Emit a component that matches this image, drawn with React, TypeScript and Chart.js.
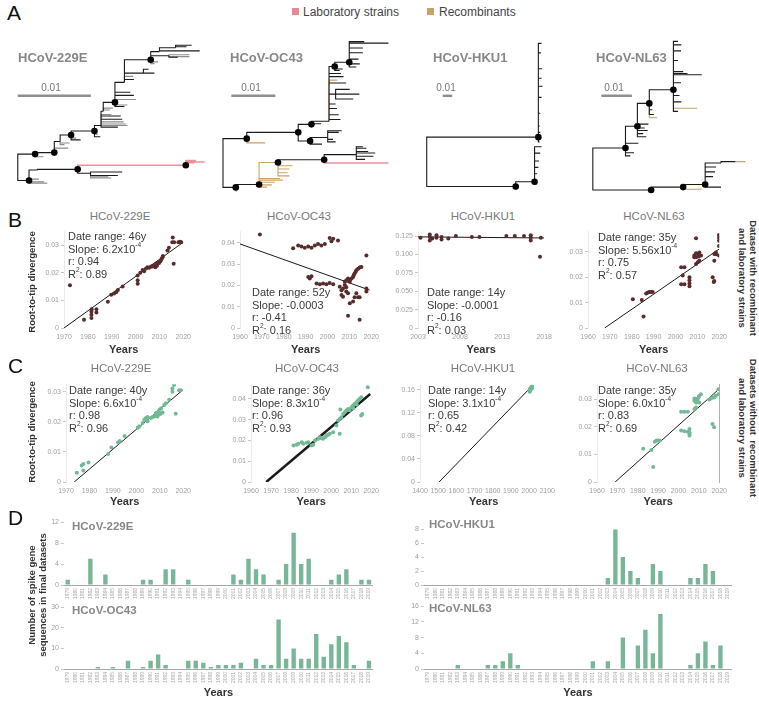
import React, { useEffect, useRef } from 'react';
import { Chart, registerables } from 'chart.js';
Chart.register(...registerables);

const FONT = 'Arial, "Liberation Sans", Helvetica, sans-serif';
const BROWN = '#5a2b2c';
const GREEN = '#72ba95';
const BARC = '#77b797';

// ---------- Panel D data ----------
const YEARS = [1979, 1980, 1981, 1982, 1983, 1984, 1985, 1986, 1987, 1988, 1989, 1990, 1991, 1992, 1993, 1994, 1995, 1996, 1997, 1998, 1999, 2000, 2001, 2002, 2003, 2004, 2005, 2006, 2007, 2008, 2009, 2010, 2011, 2012, 2013, 2014, 2015, 2016, 2017, 2018, 2019];
const D_229E = [1, 0, 0, 5, 0, 2, 0, 0, 0, 0, 1, 1, 0, 3, 3, 0, 1, 0, 0, 0, 0, 0, 2, 1, 5, 3, 2, 0, 1, 4, 10, 4, 5, 0, 0, 1, 2, 3, 0, 1, 1];
const D_OC43 = [0, 0, 0, 0, 1, 0, 1, 0, 4, 0, 1, 4, 7, 2, 0, 0, 4, 4, 3, 1, 2, 2, 2, 3, 0, 5, 2, 2, 24, 5, 10, 5, 5, 17, 6, 12, 16, 13, 2, 0, 4];
const D_HKU1 = [0, 0, 0, 0, 0, 0, 0, 0, 0, 0, 0, 0, 0, 0, 0, 0, 0, 0, 0, 0, 0, 0, 0, 0, 1, 8, 4, 2, 1, 0, 3, 2, 0, 0, 0, 1, 1, 3, 2, 0, 0];
const D_NL63 = [0, 0, 0, 0, 1, 0, 0, 0, 1, 1, 2, 4, 1, 0, 0, 0, 0, 0, 0, 0, 0, 0, 2, 0, 2, 0, 8, 0, 6, 10, 4, 14, 0, 0, 0, 1, 4, 7, 1, 6, 0];
const D_229E_YT = [0, 4, 8, 12];
const D_OC43_YT = [0, 10, 20, 30];
const D_HKU1_YT = [0, 2, 4, 6, 8];
const D_NL63_YT = [0, 4, 8, 12, 16];

// ---------- Panel B data (with recombinant and laboratory strains) ----------
const B_229E_PTS = [[1972.5, 0.0155], [1978.4, 0.003], [1981.5, 0.0036], [1981.5, 0.0048], [1981.5, 0.006], [1981.6, 0.0068], [1983.6, 0.0056], [1983.6, 0.0068], [1988.4, 0.0095], [1989.8, 0.012], [1991, 0.0125], [1992, 0.013], [1992.6, 0.0137], [1994.6, 0.015], [2000.9, 0.016], [2000.9, 0.0173], [2000.9, 0.019], [2002, 0.02], [2003, 0.021], [2003.6, 0.0205], [2004.4, 0.0215], [2005, 0.022], [2005.7, 0.0218], [2006.5, 0.0222], [2007, 0.0222], [2007.5, 0.0225], [2008, 0.0228], [2008.3, 0.022], [2008.7, 0.0232], [2009, 0.0225], [2009.3, 0.0235], [2009.9, 0.0235], [2010.3, 0.024], [2010.6, 0.0244], [2011, 0.025], [2011.3, 0.0256], [2011.5, 0.026], [2013.4, 0.028], [2014, 0.029], [2015.4, 0.031], [2015.6, 0.0327], [2016, 0.0232], [2016.2, 0.031], [2018, 0.031], [2018.6, 0.0312], [2019.2, 0.031]];
const B_229E_FIT = [[1970, 0], [2020, 0.031]];
const B_OC43_PTS = [[1969.1, 0.0439], [1984.3, 0.0375], [1986.6, 0.0388], [1988.1, 0.0383], [1989.6, 0.0377], [1991.2, 0.0383], [1992.7, 0.0377], [1994.2, 0.0388], [1995.7, 0.0395], [1997.2, 0.0388], [1998.8, 0.0395], [2001, 0.0423], [2001.8, 0.0408], [2002.6, 0.0419], [2004.8, 0.0411], [1991.2, 0.024], [1991.9, 0.0233], [1992.7, 0.0243], [1995, 0.0209], [1996.5, 0.0206], [1998, 0.0209], [1999.5, 0.0206], [2001, 0.0212], [2002.6, 0.0206], [2005.6, 0.0194], [2006.4, 0.0178], [2007.1, 0.0186], [2007.9, 0.0202], [2008.6, 0.0191], [2007.9, 0.0217], [2008.6, 0.0225], [2009.4, 0.0233], [2010.2, 0.0217], [2006.4, 0.0155], [2007.1, 0.0147], [2008.6, 0.0171], [2010.2, 0.0225], [2011.7, 0.024], [2012.4, 0.0256], [2013.2, 0.0271], [2014, 0.0279], [2014.7, 0.0284], [2015.5, 0.0287], [2011, 0.0233], [2012, 0.0248], [2012.9, 0.0264], [2009.4, 0.0163], [2010.2, 0.0116], [2011.7, 0.0124], [2012.4, 0.0144], [2014, 0.0144], [2014.7, 0.0144], [2013.2, 0.0163], [2009.4, 0.0057], [2014.7, 0.0039], [2017.8, 0.0341], [2017.8, 0.0186], [2017.8, 0.0171]];
const B_OC43_FIT = [[1960, 0.0395], [2019.3, 0.0178]];
const B_HKU1_PTS = [[2003.3, 0.1228], [2004.4, 0.1237], [2004.4, 0.1272], [2004.4, 0.1192], [2004.7, 0.1219], [2005.2, 0.1228], [2005.2, 0.1263], [2005.8, 0.1237], [2005.8, 0.1205], [2006.6, 0.1219], [2007.5, 0.125], [2009.4, 0.1237], [2010.3, 0.1237], [2013.5, 0.125], [2014.5, 0.125], [2015.6, 0.125], [2016.4, 0.1263], [2016.4, 0.1192], [2016.4, 0.1228], [2017.6, 0.1228], [2017.5, 0.0969]];
const B_HKU1_FIT = [[2003, 0.124], [2018, 0.1225]];
const B_NL63_PTS = [[1980.5, 0.0113], [1984.6, 0.011], [1985.4, 0.0045], [1986.6, 0.0136], [1987.4, 0.014], [1988.1, 0.0142], [1988.9, 0.0142], [1989.6, 0.0142], [2002.6, 0.0239], [2004.1, 0.0239], [2003.3, 0.0207], [2002.6, 0.0172], [2004.1, 0.0172], [2006.4, 0.02], [2006.4, 0.0188], [2006.4, 0.0175], [2006.4, 0.0164], [2009.4, 0.0353], [2008.6, 0.0285], [2009.4, 0.0278], [2010.2, 0.0291], [2010.9, 0.0297], [2011.7, 0.0285], [2008.6, 0.0278], [2009.4, 0.0294], [2010.6, 0.0281], [2009.4, 0.0252], [2010.2, 0.0259], [2010.9, 0.0265], [2017.75, 0.0265], [2018.5, 0.0297], [2017, 0.02], [2017.75, 0.0185], [2017.5, 0.0181], [2019.9, 0.0366], [2019.9, 0.0343], [2019.9, 0.0323], [2019.9, 0.0355], [2017.75, 0.0291], [2018.5, 0.029], [2019.9, 0.0285]];
const B_NL63_FIT = [[1967.6, 0], [2020, 0.0311]];

// ---------- Panel C data (without recombinant and laboratory strains) ----------
const C_229E_PTS = [[1974.6, 0.0031], [1976.7, 0.0055], [1977.4, 0.006], [1977.4, 0.0038], [1979.6, 0.0065], [1988, 0.0093], [1989.4, 0.0115], [1992.2, 0.0131], [1992.9, 0.0136], [1995, 0.0153], [2000.6, 0.018], [2001.3, 0.0185], [2002.7, 0.0196], [2003.4, 0.0207], [2004.1, 0.0213], [2004.8, 0.0216], [2004.8, 0.0202], [2006.2, 0.0213], [2006.9, 0.0216], [2007.6, 0.0218], [2008.3, 0.022], [2009, 0.0218], [2009.7, 0.0224], [2010.4, 0.0227], [2011.2, 0.0231], [2008.3, 0.0229], [2009.4, 0.0234], [2009.9, 0.024], [2010.6, 0.0245], [2011.9, 0.0256], [2012.6, 0.0262], [2014, 0.0273], [2015.4, 0.0311], [2016.1, 0.0322], [2015.4, 0.03], [2016.8, 0.0227], [2018.2, 0.0305], [2018.9, 0.0305]];
const C_229E_FIT = [[1973.5, 0], [2020, 0.0307]];
const C_OC43_PTS = [[1981.2, 0.0176], [1982.8, 0.0179], [1983.6, 0.0184], [1985.3, 0.0192], [1986.1, 0.0184], [1987.8, 0.0189], [1988.6, 0.0192], [1990.2, 0.0176], [1991.1, 0.0179], [1991.9, 0.02], [1993.6, 0.0208], [1994.4, 0.0216], [1995.2, 0.0211], [1996, 0.0208], [1996.9, 0.0216], [1997.7, 0.0224], [1998.5, 0.0227], [1999.3, 0.0232], [2001, 0.024], [2004.3, 0.0232], [2002.6, 0.0272], [2003.5, 0.0296], [2004.3, 0.0304], [2005.1, 0.0312], [2006, 0.0328], [2006.8, 0.0336], [2007.6, 0.0344], [2004.6, 0.0349], [2008.4, 0.0352], [2010.1, 0.036], [2010.9, 0.0368], [2011.7, 0.0376], [2012.6, 0.0384], [2013.4, 0.0392], [2014.2, 0.04], [2015, 0.0408], [2009.2, 0.0345], [2011, 0.0355], [2012.8, 0.0372], [2015, 0.032], [2015.5, 0.0328], [2018.3, 0.0456]];
const C_OC43_FIT = [[1967.6, 0], [2019.5, 0.0424]];
const C_HKU1_PTS = [[2003, 0.158], [2004, 0.1595], [2005, 0.161], [2006, 0.16], [2007, 0.1625], [2008, 0.162], [2009, 0.163], [2010, 0.1615], [2011, 0.164], [2013, 0.163], [2014, 0.165], [2015, 0.1645], [2016, 0.166], [2017, 0.165], [2004, 0.157], [2016, 0.1625]];
const C_HKU1_FIT = [[1505, 0], [2020, 0.168]];
const C_NL63_PTS = [[1982.7, 0.012], [1986.7, 0.0116], [1987.6, 0.0054], [1988.4, 0.0146], [1989.2, 0.015], [1990, 0.015], [1990.8, 0.015], [2001.3, 0.0254], [2002.9, 0.0254], [2004.6, 0.0254], [2001.3, 0.0186], [2002.9, 0.0184], [2004.6, 0.0182], [2005.4, 0.0192], [2005.4, 0.018], [2005.4, 0.0174], [2005.4, 0.0168], [2007.8, 0.0294], [2008.6, 0.03], [2009.4, 0.03], [2010.2, 0.0312], [2011, 0.0318], [2010.2, 0.0288], [2007.8, 0.0264], [2008.6, 0.027], [2007.8, 0.0302], [2008.6, 0.0288], [2009.4, 0.0291], [2009.9, 0.0306], [2016.7, 0.021], [2017.5, 0.0198], [2016.7, 0.0306], [2017.5, 0.0306], [2018.3, 0.0312], [2019.6, 0.0318], [2019.6, 0.0336], [2015.9, 0.0302], [2015.1, 0.0299]];
const C_NL63_FIT = [[1968.9, 0], [2020, 0.0337]];

// ---------- Axis ticks ----------
const X_1970 = [1970, 1980, 1990, 2000, 2010, 2020];
const X_1960 = [1960, 1970, 1980, 1990, 2000, 2010, 2020];
const X_2003 = [2003, 2008, 2013, 2018];
const X_1400 = [1400, 1500, 1600, 1700, 1800, 1900, 2000, 2100];
const Y_003 = [0, 0.01, 0.02, 0.03];
const Y_003_L = ['0', '0.01', '0.02', '0.03'];
const Y_004 = [0, 0.01, 0.02, 0.03, 0.04];
const Y_004_L = ['0', '0.01', '0.02', '0.03', '0.04'];
const Y_0125 = [0, 0.025, 0.05, 0.075, 0.1, 0.125];
const Y_0125_L = ['0', '0.025', '0.050', '0.075', '0.100', '0.125'];
const Y_016 = [0, 0.04, 0.08, 0.12, 0.16];
const Y_016_L = ['0', '0.04', '0.08', '0.12', '0.16'];

// ---------- Stats text ----------
const STATS_B = [
  { range: '46y', slope: '6.2x10', exp: '-4', r: '0.94', r2: '0.89' },
  { range: '52y', slope: '-0.0003', exp: '', r: '-0.41', r2: '0.16' },
  { range: '14y', slope: '-0.0001', exp: '', r: '-0.16', r2: '0.03' },
  { range: '35y', slope: '5.56x10', exp: '-4', r: '0.75', r2: '0.57' },
];
const STATS_C = [
  { range: '40y', slope: '6.6x10', exp: '-4', r: '0.98', r2: '0.96' },
  { range: '36y', slope: '8.3x10', exp: '-4', r: '0.96', r2: '0.93' },
  { range: '14y', slope: '3.1x10', exp: '-4', r: '0.65', r2: '0.42' },
  { range: '35y', slope: '6.0x10', exp: '-4', r: '0.83', r2: '0.69' },
];

// ---------- Trees: [id, parent, divergence (x0.001), tip position, colour, node dot] ----------
const TREE_229E = [
  ['r', '', 0, 18, 'k', 0], ['a', 'r', 2.37, 31.7, 'k', 1], ['b', 'r', 1.54, 4, 'k', 1],
  ['b1', 'b', 4.04, 1.3, 'g', 0], ['b2', 'b', 3.6, 2.7, 'g', 0], ['b3', 'b', 2.9, 5.5, 'g', 0],
  ['c', 'b', 2.72, 15, 'k', 0], ['d', 'c', 8.2, 15.7, 'k', 1], ['e', 'd', 23.0, 20, 'p', 1],
  ['e1', 'e', 24.4, 25, 'p', 0], ['e2', 'e', 24.2, 22.7, 'p', 0], ['e3', 'e', 25.6, 23.5, 'p', 0],
  ['f', 'd', 9.96, 11.7, 'k', 0], ['f1', 'f', 13.7, 9.3, 'k', 0], ['f2', 'f', 14.3, 13, 'k', 0],
  ['f3', 'f', 12.8, 6.7, 'g', 0], ['f4', 'f', 12.4, 8, 'g', 0],
  ['g', 'a', 5.0, 33.3, 'k', 1], ['a1', 'a', 3.5, 29, 'g', 0], ['h', 'g', 5.8, 45, 'k', 0],
  ['g1', 'g', 6.9, 38, 'g', 0], ['h1', 'h', 6.4, 41.7, 'g', 0], ['h2', 'h', 7.1, 43.3, 'g', 0],
  ['i', 'h', 7.3, 51.7, 'k', 1], ['i1', 'i', 8.6, 46.7, 'k', 0], ['i2', 'i', 8.0, 48.5, 'g', 0],
  ['j', 'i', 10.5, 56, 'k', 1], ['j1', 'j', 11.3, 50, 'k', 0], ['j2', 'j', 11.0, 52.5, 'g', 0],
  ['k', 'j', 11.4, 61.7, 'k', 0], ['k1', 'k', 13.7, 60, 'k', 0], ['k2', 'k', 15.0, 61.7, 'g', 0],
  ['k3', 'k', 14.8, 63.3, 'g', 0], ['k4', 'k', 14.3, 68.3, 'k', 0], ['k5', 'k', 14.1, 71.7, 'k', 0],
  ['k6', 'k', 12.8, 73.3, 'g', 0], ['k7', 'k', 14.5, 65.5, 'g', 0],
  ['l', 'k', 11.7, 76.7, 'k', 0], ['l1', 'l', 12.6, 78, 'g', 0], ['l2', 'l', 13.0, 80, 'g', 0],
  ['m', 'l', 13.3, 86, 'k', 1], ['m1', 'm', 14.6, 81.7, 'k', 0], ['m2', 'm', 15.0, 83.3, 'g', 0],
  ['m3', 'm', 15.9, 93.3, 'k', 0], ['m4', 'm', 15.4, 96.7, 'k', 0], ['m5', 'm', 16.2, 89, 'g', 0],
  ['n', 'm', 14.6, 107, 'k', 0], ['n1', 'n', 15.9, 110, 'k', 0], ['n2', 'n', 15.8, 113.3, 'g', 0],
  ['o', 'n', 17.2, 116.7, 'k', 0], ['o1', 'o', 18.7, 116.7, 'k', 0], ['o2', 'o', 17.9, 120.7, 'k', 0],
  ['q', 'n', 15.7, 130.7, 'k', 0], ['s', 'q', 18.2, 130.7, 'k', 1],
  ['s1', 's', 18.7, 126.7, 'g', 0], ['s2', 's', 19.2, 128.5, 'g', 0],
  ['u', 's', 19.4, 139.3, 'k', 0], ['v', 'u', 21.6, 143.3, 'k', 0], ['v1', 'v', 23.8, 146, 'k', 0],
  ['v2', 'v', 23.1, 144.3, 'k', 0], ['u1', 'u', 24.9, 140, 'k', 0],
  ['w', 's', 20.7, 135, 'k', 0], ['w1', 'w', 23.5, 136, 'g', 0], ['w2', 'w', 23.5, 134, 'g', 0], ['w3', 'w', 21.9, 133.3, 'k', 0],
];
const TREE_OC43 = [
  ['r', '', 0, 30, 'k', 0], ['a', 'r', 5.4, 51.7, 'k', 1], ['z', 'r', 2.9, 0.7, 'k', 1],
  ['a1', 'a', 9.6, 47.3, 't', 0], ['b', 'a', 17.1, 58.3, 'k', 1], ['c', 'b', 20.1, 66.7, 'k', 1],
  ['d', 'b', 19.8, 49.3, 'k', 1], ['e', 'd', 23.8, 53, 'k', 0], ['e1', 'e', 26.3, 58.3, 'k', 0],
  ['e2', 'e', 25.6, 48.3, 'k', 0], ['e3', 'e', 25.0, 51, 'k', 0], ['e4', 'e', 27.0, 60, 'k', 0],
  ['d1', 'd', 22.5, 46, 'k', 0], ['f', 'c', 24.1, 70, 'k', 0], ['c1', 'c', 22.3, 67.3, 'k', 0],
  ['f1', 'f', 26.7, 71.7, 'k', 0], ['f2', 'f', 26.3, 76.7, 'k', 0], ['f3', 'f', 25.9, 83.3, 'k', 0],
  ['f4', 'f', 25.6, 88, 'k', 0], ['g', 'f', 25.6, 98.3, 'k', 0], ['g1', 'g', 31.0, 98.3, 'k', 0],
  ['g2', 'g', 29.6, 93.3, 'k', 0], ['g3', 'g', 28.8, 103.3, 'k', 0], ['f5', 'f', 28.0, 110, 'k', 0],
  ['f6', 'f', 27.4, 116.7, 'k', 0], ['f7', 'f', 26.8, 120, 'k', 0], ['f8', 'f', 26.0, 113, 't', 0],
  ['h', 'f', 25.4, 127.3, 'k', 1], ['h1', 'h', 27.2, 124.7, 'k', 0], ['h2', 'h', 26.5, 123, 'k', 0],
  ['i', 'h', 28.7, 131.7, 'k', 1], ['i1', 'i', 30.3, 126.7, 'k', 0], ['i2', 'i', 31.1, 130, 'k', 0],
  ['i3', 'i', 30.8, 135, 'k', 0], ['i4', 'i', 31.8, 141.7, 'k', 0], ['i5', 'i', 31.8, 146.7, 'k', 0],
  ['i6', 'i', 32.1, 153.3, 'k', 0], ['i7', 'i', 37.6, 151.7, 'k', 0],
  ['y', 'z', 8.2, 3.7, 'k', 1], ['x', 'y', 12.5, 26.7, 't', 1], ['w', 'x', 23.0, 29.7, 'k', 1],
  ['w1', 'w', 37.6, 26.3, 'p', 0], ['v', 'w', 30.3, 35, 'k', 0], ['v1', 'v', 32.6, 41.7, 'k', 0],
  ['v2', 'v', 33.0, 38.3, 'k', 0], ['v3', 'v', 34.6, 36.7, 'k', 0], ['v4', 'v', 34.2, 33.3, 'k', 0],
  ['v5', 'v', 32.3, 30, 'k', 0], ['v6', 'v', 31.8, 43.3, 'k', 0],
  ['x1', 'x', 15.8, 23.3, 't', 0], ['x2', 'x', 15.1, 20, 't', 0], ['x3', 'x', 14.7, 16, 't', 0],
  ['x4', 'x', 15.1, 12.7, 't', 0], ['y1', 'y', 13.0, 10, 't', 0], ['y2', 'y', 13.6, 8.3, 't', 0],
  ['y3', 'y', 11.8, 6, 't', 0], ['y4', 'y', 11.1, 3.3, 't', 0], ['y5', 'y', 10.0, 1, 't', 0],
  ['z1', 'z', 3.2, -3, 't', 0],
];
const TREE_HKU1 = [
  ['r', '', 0, 30, 'k', 0], ['a', 'r', 118.3, 55, 'k', 1], ['b', 'r', 94.3, 3.3, 'k', 1],
  ['a1', 'a', 121.7, 153.3, 'k', 0], ['a2', 'a', 121.0, 143.3, 'k', 0], ['a3', 'a', 122.3, 126.7, 'k', 0],
  ['a4', 'a', 121.7, 116.7, 'k', 0], ['a5', 'a', 122.7, 108.3, 'k', 0], ['a6', 'a', 121.7, 96.7, 'k', 0],
  ['a7', 'a', 120.3, 80, 'k', 0], ['a8', 'a', 119.7, 66.7, 'k', 0], ['a9', 'a', 120.3, 60, 'k', 0],
  ['a10', 'a', 119.5, 50, 'k', 0], ['c', 'b', 114.3, 8.3, 'k', 1], ['c1', 'c', 121.7, 45, 'k', 0],
  ['c2', 'c', 120.3, 38.3, 'k', 0], ['c3', 'c', 118.3, 23.3, 'k', 0], ['c4', 'c', 117.0, 16.7, 'k', 0],
  ['c5', 'c', 116.5, 6, 'k', 0], ['c6', 'c', 119.0, 30, 'k', 0], ['b1', 'b', 95.0, 0, 't', 0],
];
const TREE_NL63 = [
  ['r', '', 0, 30, 'k', 0], ['a', 'r', 10.7, 45, 'k', 1], ['b', 'r', 19.1, 1, 'k', 1],
  ['a1', 'a', 12.3, 36.7, 'k', 0], ['a2', 'a', 13.5, 40, 'k', 0], ['a3', 'a', 14.9, 50, 'k', 0],
  ['c', 'a', 14.6, 67.7, 'k', 1], ['c1', 'c', 16.5, 60, 'k', 0], ['c2', 'c', 17.5, 56.7, 'k', 0],
  ['c3', 'c', 18.0, 63.3, 'k', 0], ['c4', 'c', 17.0, 66, 'k', 0], ['c5', 'c', 18.2, 70, 'k', 0],
  ['d', 'c', 18.5, 91.7, 'k', 1], ['d1', 'd', 21.1, 76.7, 't', 0], ['d2', 'd', 20.0, 80, 'k', 0],
  ['d3', 'd', 19.5, 85, 'k', 0], ['e', 'd', 26.4, 106, 'k', 1], ['e1', 'e', 27.9, 156.7, 'k', 0],
  ['e2', 'e', 29.0, 153, 'k', 0], ['e3', 'e', 28.9, 146.7, 'k', 0], ['e4', 'e', 27.9, 136.7, 'k', 0],
  ['e5', 'e', 29.6, 125, 'k', 0], ['e6', 'e', 35.7, 121.7, 'k', 0], ['e7', 'e', 31.0, 123, 'k', 0],
  ['e8', 'e', 28.9, 113.3, 'k', 0], ['e9', 'e', 28.4, 100, 'k', 0], ['e10', 'e', 34.2, 86.7, 't', 0],
  ['e11', 'e', 27.9, 83.3, 'k', 0], ['e12', 'e', 29.0, 93.3, 'k', 0],
  ['f', 'b', 29.6, 4, 'k', 1], ['f1', 'f', 35.7, 1.7, 't', 0], ['g', 'f', 36.8, 6.7, 'k', 1],
  ['g1', 'g', 42.0, 4, 'k', 0], ['g2', 'g', 39.4, 15, 'k', 0], ['g3', 'g', 40.0, 20, 'k', 0],
  ['g4', 'g', 40.4, 25, 'k', 0], ['h', 'g', 42.0, 29.3, 'k', 0], ['h1', 'h', 46.7, 30.7, 'k', 0],
  ['h2', 'h1', 50.0, 30.7, 't', 0],
];

const TREE_COL: any = { k: '#1c1c1c', g: '#8c8c8c', p: '#e8939b', t: '#caa466' };

function treeConfig(nodes: any[], xr: number[], yr: number[], bar: number[]) {
  const map = new Map(nodes.map((n) => [n[0], n]));
  const seg = (c: string) => {
    const out: any[] = [];
    for (const n of nodes) {
      if (!n[1] || n[4] !== c) continue;
      const p: any = map.get(n[1]);
      out.push({ x: p[2], y: p[3] }, { x: p[2], y: n[3] }, { x: n[2], y: n[3] }, { x: null, y: null });
    }
    return out;
  };
  const datasets: any[] = [
    { data: nodes.filter((n) => n[5]).map((n) => ({ x: n[2], y: n[3] })), pointRadius: 3.3, pointBackgroundColor: '#050505', pointBorderWidth: 0, showLine: false },
  ];
  for (const c of ['k', 'p', 't', 'g']) {
    datasets.push({ data: seg(c), showLine: true, borderColor: TREE_COL[c], borderWidth: c === 'p' ? 1.4 : 1.1, pointRadius: 0, spanGaps: false, tension: 0 });
  }
  datasets.push({ data: [{ x: bar[0], y: bar[2] }, { x: bar[1], y: bar[2] }], showLine: true, borderColor: '#8e8e8e', borderWidth: 2.5, pointRadius: 0 });
  return {
    type: 'scatter',
    data: { datasets },
    options: {
      responsive: false, animation: false, devicePixelRatio: 1, events: [],
      layout: { padding: 0 },
      plugins: { legend: { display: false }, tooltip: { enabled: false } },
      scales: {
        x: { type: 'linear', display: false, min: xr[0], max: xr[1] },
        y: { type: 'linear', display: false, min: yr[0], max: yr[1] },
      },
    },
  };
}

function scatterConfig(p: any) {
  return {
    type: 'scatter',
    data: {
      datasets: [
        { data: p.pts.map(([x, y]: number[]) => ({ x, y })), pointRadius: 2, pointBackgroundColor: p.color, pointBorderWidth: 0, showLine: false },
        { data: p.fit.map(([x, y]: number[]) => ({ x, y })), showLine: true, borderColor: '#1a1a1a', borderWidth: p.fitW || 1, pointRadius: 0 },
      ],
    },
    options: {
      responsive: false, animation: false, devicePixelRatio: 1, events: [],
      layout: { padding: { top: 5, right: 10, left: 0, bottom: 0 } },
      plugins: { legend: { display: false }, tooltip: { enabled: false } },
      scales: {
        x: {
          type: 'linear', min: p.x[0], max: p.x[1],
          afterBuildTicks: (s: any) => { s.ticks = p.xt.map((v: number) => ({ value: v })); },
          ticks: { autoSkip: false, font: { family: FONT, size: 7 }, color: '#a0a0a0', maxRotation: 0, padding: 3, callback: (v: any) => String(v) },
          grid: { display: false, tickLength: 2 },
          border: { display: false },
          title: { display: true, text: 'Years', font: { family: FONT, size: 11, weight: 'bold' }, color: '#333', padding: { top: 0, bottom: 2 } },
          afterFit: (s: any) => { s.height = p.xH; },
        },
        y: {
          type: 'linear', min: p.y[0], max: p.y[1],
          afterBuildTicks: (s: any) => { s.ticks = p.yt.map((v: number) => ({ value: v })); },
          ticks: { font: { family: FONT, size: 7 }, color: '#a0a0a0', padding: 2, callback: (_v: any, i: number) => p.yl[i] },
          grid: { drawOnChartArea: false, tickLength: 3, color: '#c8c8c8' },
          border: { display: true, color: '#ececec' },
          afterFit: (s: any) => { s.width = p.yW; },
        },
        ...(p.rightLine
          ? { y2: { type: 'linear', position: 'right', min: p.y[0], max: p.y[1], ticks: { display: false }, grid: { display: false, drawTicks: false }, border: { display: true, color: '#b0b0b0' }, afterFit: (s: any) => { s.width = 0; } } }
          : {}),
      },
    },
  };
}

function barConfig(p: any) {
  return {
    type: 'bar',
    data: { labels: YEARS.map(String), datasets: [{ data: p.data, backgroundColor: BARC, barPercentage: 0.58, categoryPercentage: 1 }] },
    options: {
      responsive: false, animation: false, devicePixelRatio: 1, events: [],
      layout: { padding: { top: 5, right: 4, left: 0, bottom: 0 } },
      plugins: { legend: { display: false }, tooltip: { enabled: false } },
      scales: {
        x: {
          ticks: { autoSkip: false, minRotation: 90, maxRotation: 90, font: { family: FONT, size: 5 }, color: '#a6a6a6', padding: 2 },
          grid: { display: false, tickLength: 1 },
          border: { display: true, color: '#a8a8a8', width: 1 },
          title: p.title
            ? { display: true, text: 'Years', font: { family: FONT, size: 11, weight: 'bold' }, color: '#333', padding: { top: 0, bottom: 2 } }
            : { display: false },
          afterFit: (s: any) => { s.height = p.xH; },
        },
        y: {
          min: 0, max: p.max,
          afterBuildTicks: (s: any) => { s.ticks = p.yt.map((v: number) => ({ value: v })); },
          ticks: { font: { family: FONT, size: 7 }, color: '#a0a0a0', padding: 2, callback: (_v: any, i: number) => String(p.yt[i]) },
          grid: { drawOnChartArea: false, tickLength: 3, color: '#c8c8c8' },
          border: { display: false },
          afterFit: (s: any) => { s.width = p.yW; },
        },
      },
    },
  };
}

function ChartBox({ left, top, width, height, make }: any) {
  const ref = useRef<HTMLCanvasElement>(null);
  useEffect(() => {
    const chart = new Chart(ref.current as HTMLCanvasElement, make() as any);
    return () => chart.destroy();
  }, []);
  return <canvas ref={ref} width={width} height={height} style={{ position: 'absolute', left, top, width, height }} />;
}

function Txt({ x, y, children, center, style }: any) {
  return (
    <div style={{ position: 'absolute', left: x, top: y, transform: center ? 'translate(-50%,-50%)' : 'translateY(-50%)', whiteSpace: 'nowrap', fontFamily: FONT, lineHeight: 1, ...style }}>
      {children}
    </div>
  );
}

function Rot({ x, y, deg, lines, style }: any) {
  return (
    <div style={{ position: 'absolute', left: x, top: y, transform: `translate(-50%,-50%) rotate(${deg}deg)`, whiteSpace: 'pre', fontFamily: FONT, textAlign: 'center', ...style }}>
      {lines.map((l: string, i: number) => <div key={i}>{l}</div>)}
    </div>
  );
}

const SUP: any = { fontSize: 6.5, verticalAlign: 'top', position: 'relative', top: -1, lineHeight: 1 };

function Stats({ x, y, s }: any) {
  return (
    <div style={{ position: 'absolute', left: x, top: y, fontFamily: FONT, fontSize: 11, lineHeight: '12.5px', color: '#3a3a3a', whiteSpace: 'nowrap' }}>
      <div>Date range: {s.range}</div>
      <div>Slope: {s.slope}{s.exp ? <span style={SUP}>{s.exp}</span> : null}</div>
      <div>r: {s.r}</div>
      <div>R<span style={SUP}>2</span>: {s.r2}</div>
    </div>
  );
}

const LETTER: any = { fontSize: 21, color: '#111' };
const ATITLE: any = { fontSize: 13, fontWeight: 'bold', color: '#878787' };
const BTITLE: any = { fontSize: 11.5, color: '#7a7a7a' };
const DTITLE: any = { fontSize: 11.5, fontWeight: 'bold', color: '#888' };
const SCALE: any = { fontSize: 10, color: '#777' };
const SIDE: any = { fontSize: 9.5, fontWeight: 'bold', color: '#333', lineHeight: '11px' };

export default function App() {
  useEffect(() => {
    document.body.style.margin = '0';
    document.body.style.background = '#fff';
  }, []);
  return (
    <div style={{ position: 'absolute', left: 0, top: 0, width: 759, height: 704, overflow: 'hidden', background: '#fff', fontFamily: FONT }}>
      {/* Panel A */}
      <div style={{ position: 'absolute', left: 7, top: 2, fontFamily: FONT, lineHeight: 1, ...LETTER }}>A</div>
      <div style={{ position: 'absolute', left: 292, top: 8, width: 7, height: 7, background: '#e38a94' }} />
      <Txt x={303} y={12} style={{ fontSize: 12, color: '#444' }}>Laboratory strains</Txt>
      <div style={{ position: 'absolute', left: 427, top: 8, width: 7, height: 7, background: '#c8a265' }} />
      <Txt x={439} y={12} style={{ fontSize: 12, color: '#444' }}>Recombinants</Txt>

      <ChartBox left={8} top={25} width={207} height={170} make={() => treeConfig(TREE_229E, [-0.79, 26.45], [-7, 163], [0, 10, 93])} />
      <ChartBox left={212} top={22} width={183} height={178} make={() => treeConfig(TREE_OC43, [-1.59, 38.19], [-8.33, 169.67], [1.9, 11.9, 96.7])} />
      <ChartBox left={418} top={25} width={142} height={175} make={() => treeConfig(TREE_HKU1, [-5, 137], [-6.67, 168.33], [17, 27, 98.3])} />
      <ChartBox left={585} top={25} width={174} height={175} make={() => treeConfig(TREE_NL63, [-1.25, 53.125], [-5.33, 169.67], [2.8, 12.8, 99.7])} />

      <Txt x={18} y={57} style={ATITLE}>HCoV-229E</Txt>
      <Txt x={230} y={57} style={ATITLE}>HCoV-OC43</Txt>
      <Txt x={433} y={57} style={ATITLE}>HCoV-HKU1</Txt>
      <Txt x={596} y={57} style={ATITLE}>HCoV-NL63</Txt>
      <Txt x={51} y={88} center style={SCALE}>0.01</Txt>
      <Txt x={251} y={88} center style={SCALE}>0.01</Txt>
      <Txt x={446} y={88} center style={SCALE}>0.01</Txt>
      <Txt x={614} y={88} center style={SCALE}>0.01</Txt>

      {/* Panel B */}
      <div style={{ position: 'absolute', left: 8, top: 209, fontFamily: FONT, lineHeight: 1, ...LETTER }}>B</div>
      <ChartBox left={20} top={225} width={174} height={134} make={() => scatterConfig({ pts: B_229E_PTS, fit: B_229E_FIT, color: BROWN, x: [1970, 2020], xt: X_1970, y: [0, 0.035], yt: Y_003, yl: Y_003_L, yW: 44, xH: 31 })} />
      <ChartBox left={210} top={225} width={172} height={134} make={() => scatterConfig({ pts: B_OC43_PTS, fit: B_OC43_FIT, color: BROWN, x: [1960, 2020], xt: X_1960, y: [0, 0.0455], yt: Y_004, yl: Y_004_L, yW: 30, xH: 31 })} />
      <ChartBox left={388} top={225} width={167} height={134} make={() => scatterConfig({ pts: B_HKU1_PTS, fit: B_HKU1_FIT, color: BROWN, x: [2003, 2018], xt: X_2003, y: [0, 0.1317], yt: Y_0125, yl: Y_0125_L, yW: 30, xH: 31 })} />
      <ChartBox left={560} top={225} width={170} height={134} make={() => scatterConfig({ pts: B_NL63_PTS, fit: B_NL63_FIT, color: BROWN, x: [1960, 2020], xt: X_1960, y: [0, 0.0381], yt: Y_003, yl: Y_003_L, yW: 28, xH: 31 })} />
      <Rot x={31} y={282} deg={-90} lines={['Root-to-tip divergence']} style={SIDE} />
      <Txt x={120} y={217} center style={BTITLE}>HCoV-229E</Txt>
      <Txt x={299} y={217} center style={BTITLE}>HCoV-OC43</Txt>
      <Txt x={483} y={217} center style={BTITLE}>HCoV-HKU1</Txt>
      <Txt x={654} y={217} center style={BTITLE}>HCoV-NL63</Txt>
      <Stats x={68} y={230} s={STATS_B[0]} />
      <Stats x={252} y={286} s={STATS_B[1]} />
      <Stats x={427} y={286} s={STATS_B[2]} />
      <Stats x={598} y={231} s={STATS_B[3]} />
      <Rot x={748} y={278} deg={90} lines={['Dataset with recombinant', 'and laboratory strains']} style={SIDE} />

      {/* Panel C */}
      <div style={{ position: 'absolute', left: 8, top: 355, fontFamily: FONT, lineHeight: 1, ...LETTER }}>C</div>
      <ChartBox left={20} top={378} width={174} height={133} make={() => scatterConfig({ pts: C_229E_PTS, fit: C_229E_FIT, color: GREEN, x: [1970, 2020], xt: X_1970, y: [0, 0.0325], yt: Y_003, yl: Y_003_L, yW: 46, xH: 29 })} />
      <ChartBox left={221} top={378} width={161} height={133} make={() => scatterConfig({ pts: C_OC43_PTS, fit: C_OC43_FIT, fitW: 2.5, color: GREEN, x: [1960, 2020], xt: X_1960, y: [0, 0.0471], yt: Y_004, yl: Y_004_L, yW: 30, xH: 29 })} />
      <ChartBox left={390} top={378} width={168} height={133} make={() => scatterConfig({ pts: C_HKU1_PTS, fit: C_HKU1_FIT, color: GREEN, x: [1400, 2100], xt: X_1400, y: [0, 0.17], yt: Y_016, yl: Y_016_L, yW: 30, xH: 29 })} />
      <ChartBox left={567} top={378} width={163} height={133} make={() => scatterConfig({ pts: C_NL63_PTS, fit: C_NL63_FIT, color: GREEN, x: [1960, 2020], xt: X_1960, y: [0, 0.0354], yt: Y_003, yl: Y_003_L, yW: 30, xH: 29, rightLine: true })} />
      <Rot x={31} y={432} deg={-90} lines={['Root-to-tip divergence']} style={SIDE} />
      <Txt x={121} y={369} center style={BTITLE}>HCoV-229E</Txt>
      <Txt x={307} y={369} center style={BTITLE}>HCoV-OC43</Txt>
      <Txt x={483} y={369} center style={BTITLE}>HCoV-HKU1</Txt>
      <Txt x={657} y={369} center style={BTITLE}>HCoV-NL63</Txt>
      <Stats x={69} y={384} s={STATS_C[0]} />
      <Stats x={252} y={384} s={STATS_C[1]} />
      <Stats x={428} y={384} s={STATS_C[2]} />
      <Stats x={598} y={384} s={STATS_C[3]} />
      <Rot x={748} y={428} deg={90} lines={['Datasets without  recombinant', 'and laboratory strains']} style={SIDE} />

      {/* Panel D */}
      <div style={{ position: 'absolute', left: 8, top: 507, fontFamily: FONT, lineHeight: 1, ...LETTER }}>D</div>
      <ChartBox left={44} top={516} width={333} height={87} make={() => barConfig({ data: D_229E, max: 12, yt: D_229E_YT, yW: 20, xH: 18 })} />
      <ChartBox left={44} top={601} width={333} height={101} make={() => barConfig({ data: D_OC43, max: 30, yt: D_OC43_YT, yW: 20, xH: 33, title: true })} />
      <ChartBox left={404} top={523} width={332} height={80} make={() => barConfig({ data: D_HKU1, max: 8, yt: D_HKU1_YT, yW: 20, xH: 18 })} />
      <ChartBox left={404} top={600} width={332} height={102} make={() => barConfig({ data: D_NL63, max: 16, yt: D_NL63_YT, yW: 20, xH: 33, title: true })} />
      <Txt x={72} y={527} style={DTITLE}>HCoV-229E</Txt>
      <Txt x={72} y={611} style={DTITLE}>HCoV-OC43</Txt>
      <Txt x={429} y={525} style={DTITLE}>HCoV-HKU1</Txt>
      <Txt x={429} y={609} style={DTITLE}>HCoV-NL63</Txt>
      <Rot x={37} y={595} deg={-90} lines={['Number of spike gene', 'sequences in final datasets']} style={SIDE} />
    </div>
  );
}
